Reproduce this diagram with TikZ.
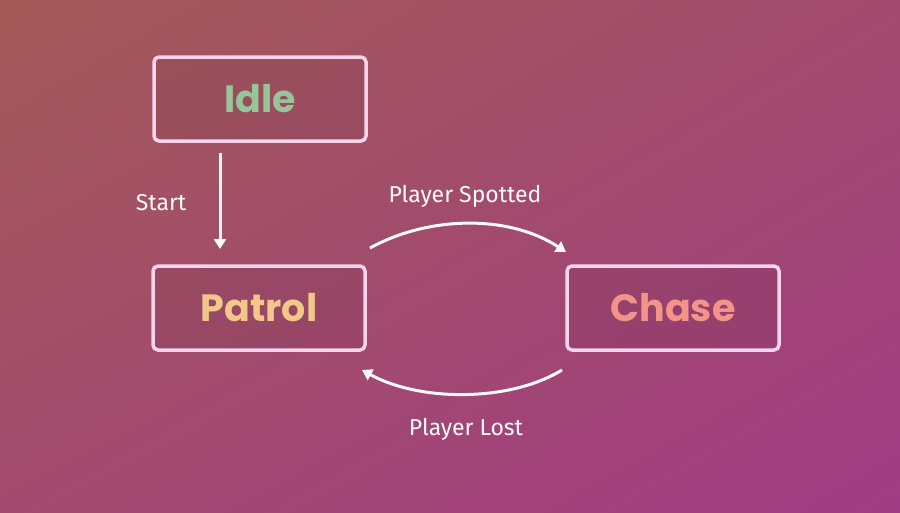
\documentclass[tikz,border=0pt]{standalone}
\usepackage{fontspec}
\setmainfont{Poppins}
\newfontfamily\lblfont{Fira Sans}
\usetikzlibrary{arrows.meta,shadings}
\definecolor{bgA}{HTML}{A45A58}
\definecolor{bgM}{HTML}{A24A6E}
\definecolor{bgB}{HTML}{A03C84}
\definecolor{edge}{HTML}{F8D4EC}
\definecolor{idlec}{HTML}{98C49A}
\definecolor{patrolc}{HTML}{F2C88A}
\definecolor{chasec}{HTML}{F2948A}
\tikzset{
  statebox/.style={draw=edge, line width=3.5pt, rounded corners=5pt, fill=black, fill opacity=0.06, text opacity=1, minimum width=212pt, minimum height=84pt, font=\bfseries\fontsize{38}{42}\selectfont},
  lbl/.style={text=white!92!pink, font=\lblfont\fontsize{23}{26}\selectfont},
  conn/.style={draw=white!92!pink, line width=3pt, -{Triangle[length=10pt,width=12pt]}}
}
\begin{document}
\begin{tikzpicture}[x=1pt,y=-1pt]
\shade[upper left=bgA, lower right=bgB, upper right=bgM, lower left=bgM] (0,0) rectangle (900,512);
\useasboundingbox (0,0) rectangle (900,512);
\node[statebox, text=idlec] (idle) at (260,99) {Idle};
\node[statebox, text=patrolc] (patrol) at (259,308) {Patrol};
\node[statebox, text=chasec] (chase) at (673,308) {Chase};
\draw[conn] (idle.south -| 220,0) ++(0,10) coordinate (s0) -- (220,249) coordinate (s1);
\node[lbl] (lstart) at (161,203) {Start};
\draw[conn] (370,248) coordinate (a0) .. controls (430,215) and (510,215) .. (566,252) coordinate (a1);
\node[lbl] (lspot) at (465,196) {Player Spotted};
\draw[conn] (562,370) coordinate (b0) .. controls (510,402) and (420,402) .. (362,370) coordinate (b1);
\node[lbl] (llost) at (466,429) {Player Lost};
\end{tikzpicture}
\end{document}
